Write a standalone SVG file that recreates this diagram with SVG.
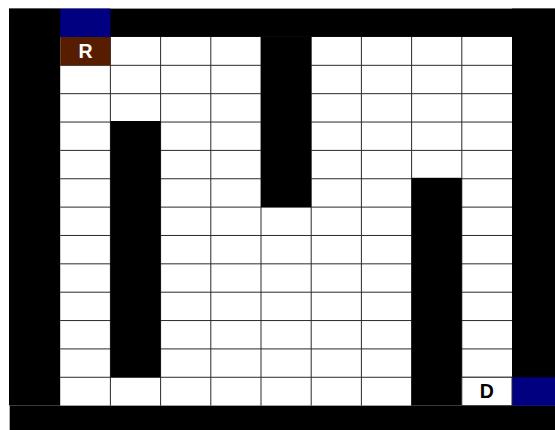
<svg xmlns="http://www.w3.org/2000/svg" width="555" height="430" viewBox="0 0 555 430">
  <style>
    .wall { fill: #000000; }
    .exit { fill: #000080; }
    .floor { fill: #ffffff; }
    .grid line { stroke: #2a2a2a; stroke-width: 1; }
    .lbl { font-family: "Liberation Sans", Arial, sans-serif; font-weight: bold; font-size: 19.5px; text-anchor: middle; }
  </style>
  <rect x="0" y="0" width="555" height="430" fill="#ffffff"/>
  <!-- floor -->
  <rect class="floor" x="60.2" y="36.96" width="451.8" height="368.68"/>
  <!-- grid lines -->
  <g class="grid">
    <line x1="60.2" y1="65.32" x2="512" y2="65.32"/>
    <line x1="60.2" y1="93.68" x2="512" y2="93.68"/>
    <line x1="60.2" y1="122.04" x2="512" y2="122.04"/>
    <line x1="60.2" y1="150.4" x2="512" y2="150.4"/>
    <line x1="60.2" y1="178.76" x2="512" y2="178.76"/>
    <line x1="60.2" y1="207.12" x2="512" y2="207.12"/>
    <line x1="60.2" y1="235.48" x2="512" y2="235.48"/>
    <line x1="60.2" y1="263.84" x2="512" y2="263.84"/>
    <line x1="60.2" y1="292.2" x2="512" y2="292.2"/>
    <line x1="60.2" y1="320.56" x2="512" y2="320.56"/>
    <line x1="60.2" y1="348.92" x2="512" y2="348.92"/>
    <line x1="60.2" y1="377.28" x2="512" y2="377.28"/>
    <line x1="110.4" y1="36.96" x2="110.4" y2="405.64"/>
    <line x1="160.6" y1="36.96" x2="160.6" y2="405.64"/>
    <line x1="210.8" y1="36.96" x2="210.8" y2="405.64"/>
    <line x1="261" y1="36.96" x2="261" y2="405.64"/>
    <line x1="311.2" y1="36.96" x2="311.2" y2="405.64"/>
    <line x1="361.4" y1="36.96" x2="361.4" y2="405.64"/>
    <line x1="411.6" y1="36.96" x2="411.6" y2="405.64"/>
    <line x1="461.8" y1="36.96" x2="461.8" y2="405.64"/>
  </g>
  <!-- walls -->
  <g id="walls">
    <rect class="wall" x="9" y="8.6" width="546" height="28.36"/>
    <rect class="wall" x="9" y="8.6" width="51.2" height="397.04"/>
    <rect class="wall" x="10" y="405.64" width="545" height="24.36"/>
    <rect class="wall" x="512" y="8.6" width="43" height="397.04"/>
    <rect class="wall" x="110.4" y="121" width="50.2" height="256.28"/>
    <rect class="wall" x="261" y="36.96" width="50.2" height="170.16"/>
    <rect class="wall" x="411.6" y="177.8" width="50.2" height="227.84"/>
    <line x1="9.5" y1="405.64" x2="9.5" y2="430" stroke="#b0b0b0" stroke-width="1"/>
  </g>
  <!-- exits -->
  <g id="exit-top">
    <rect class="exit" x="60.2" y="8.6" width="50.2" height="28.36"/>
  </g>
  <g id="exit-right">
    <rect class="exit" x="512" y="377.28" width="43" height="28.36"/>
  </g>
  <!-- robot -->
  <g id="robot">
    <rect x="60.2" y="36.96" width="50.2" height="28.36" fill="#571d00"/>
    <text class="lbl" x="85.5" y="58" fill="#ffffff">R</text>
  </g>
  <!-- destination -->
  <g id="destination">
    <rect x="461.8" y="377.28" width="50.2" height="28.36" fill="#ffffff" stroke="#2a2a2a" stroke-width="1"/>
    <text class="lbl" x="486.7" y="397.7" fill="#000000">D</text>
  </g>
</svg>
